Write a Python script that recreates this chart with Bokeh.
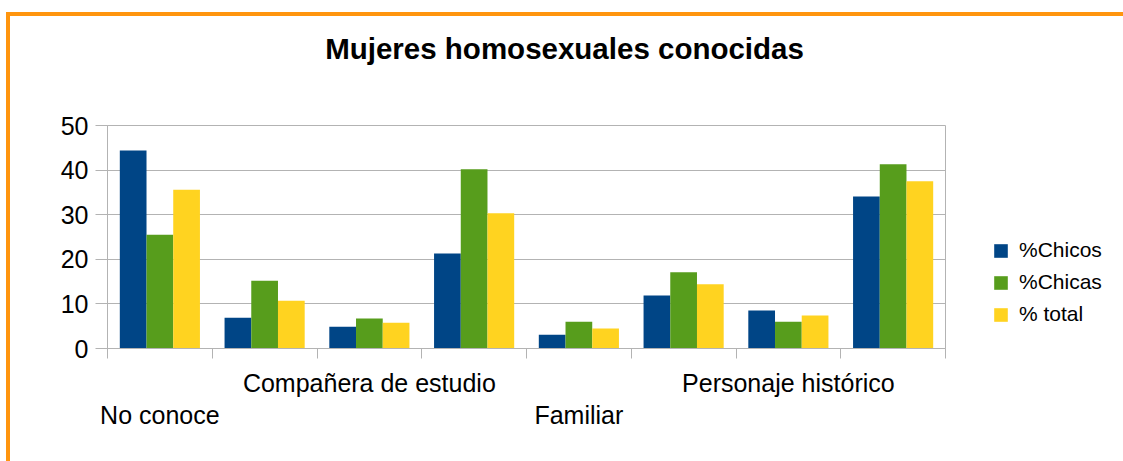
from bokeh.plotting import figure
from bokeh.layouts import row
from bokeh.models import (Range1d, FixedTicker, Legend, LegendItem, ColumnDataSource,
                          LinearAxis, InlineStyleSheet)
from bokeh.transform import dodge
from bokeh.embed import file_html
from bokeh.resources import INLINE

title_text = "Mujeres homosexuales conocidas"
categories = ["No conoce", "", "Compañera de estudio", "", "Familiar", "", "Personaje histórico", ""]
chicos = [44.4, 6.9, 4.9, 21.3, 3.1, 11.9, 8.5, 34.1]
chicas = [25.5, 15.2, 6.7, 40.2, 6.0, 17.1, 6.0, 41.3]
total = [35.6, 10.7, 5.8, 30.3, 4.5, 14.4, 7.4, 37.5]
series_names = ["%Chicos", "%Chicas", "% total"]
series_keys = ["chicos", "chicas", "total"]
colors = ["#004586", "#579d1c", "#ffd320"]
y_ticks = [0, 10, 20, 30, 40, 50]

FONT = "Liberation Sans"
W, H = 1123, 461
PW = 946
N = len(categories)

xs = [i + 0.5 for i in range(N)]
src = ColumnDataSource(dict(x=xs, chicos=chicos, chicas=chicas, total=total))

p = figure(width=PW, height=H, output_backend="svg", toolbar_location=None,
           x_range=Range1d(0, N), y_range=Range1d(0, 50), x_axis_type=None,
           min_border_left=107, min_border_right=1, min_border_top=125, min_border_bottom=113)
p.background_fill_color = "white"
p.border_fill_color = "white"
p.outline_line_color = "#b3b3b3"
p.outline_line_width = 1

for key, off, col in zip(series_keys, [-0.255, 0.0, 0.255], colors):
    p.vbar(x=dodge("x", off, range=p.x_range), top=key, width=0.255, bottom=0,
           source=src, fill_color=col, line_color=None)

# grid
p.xgrid.visible = False
p.ygrid.grid_line_color = "#b3b3b3"
p.ygrid.ticker = FixedTicker(ticks=y_ticks)

# y axis
p.yaxis.ticker = FixedTicker(ticks=y_ticks)
p.yaxis.axis_line_color = "#b3b3b3"
p.yaxis.major_tick_line_color = "#b3b3b3"
p.yaxis.major_tick_out = 12
p.yaxis.major_tick_in = 0
p.yaxis.minor_tick_line_color = None
p.yaxis.major_label_standoff = 7
p.yaxis.major_label_text_font = FONT
p.yaxis.major_label_text_font_size = "25px"
p.yaxis.major_label_text_color = "black"

# category labels, staggered on two levels as in the original
upper = [i for i, c in enumerate(categories) if c and (i // 2) % 2 == 1]
lower = [i for i, c in enumerate(categories) if c and (i // 2) % 2 == 0]

ax1 = LinearAxis(ticker=FixedTicker(ticks=[xs[i] for i in upper],
                                    minor_ticks=list(range(N + 1))),
                 major_label_overrides={xs[i]: categories[i] for i in upper})
ax1.axis_line_color = "#b3b3b3"
ax1.major_tick_line_color = None
ax1.major_tick_out = 0
ax1.major_tick_in = 0
ax1.minor_tick_line_color = "#b3b3b3"
ax1.minor_tick_out = 10
ax1.minor_tick_in = 0
ax1.major_label_standoff = 10
ax1.major_label_text_font = FONT
ax1.major_label_text_font_size = "25px"
ax1.major_label_text_color = "black"
p.add_layout(ax1, "below")

ax2 = LinearAxis(ticker=FixedTicker(ticks=[xs[i] for i in lower], minor_ticks=[]),
                 major_label_overrides={xs[i]: categories[i] for i in lower})
ax2.axis_line_color = None
ax2.major_tick_line_color = None
ax2.major_tick_out = 0
ax2.major_tick_in = 0
ax2.minor_tick_line_color = None
ax2.major_label_standoff = 1
ax2.major_label_text_font = FONT
ax2.major_label_text_font_size = "25px"
ax2.major_label_text_color = "black"
p.add_layout(ax2, "below")

# chart title, placed above the frame (centred over the whole chart box)
TITLE_X = 4.363
tax = LinearAxis(ticker=FixedTicker(ticks=[TITLE_X], minor_ticks=[]),
                 major_label_overrides={TITLE_X: title_text})
tax.axis_line_color = None
tax.major_tick_line_color = None
tax.minor_tick_line_color = None
tax.major_tick_out = 0
tax.major_tick_in = 0
tax.major_label_standoff = 61
tax.major_label_text_font = FONT
tax.major_label_text_font_size = "29.5px"
tax.major_label_text_font_style = "bold"
tax.major_label_text_color = "black"
p.add_layout(tax, "above")

# legend panel (beside the plot); its bars lie outside its own view range
lf = figure(width=W - PW, height=H, output_backend="svg", toolbar_location=None,
            x_range=Range1d(-20, -19), y_range=Range1d(0, 1), x_axis_type=None, y_axis_type=None,
            min_border_left=0, min_border_right=0, min_border_top=0, min_border_bottom=0)
lf.outline_line_color = None
lf.xgrid.visible = False
lf.ygrid.visible = False
lf.background_fill_color = "white"
lf.border_fill_color = "white"
items = []
for name, key, col in zip(series_names, series_keys, colors):
    r = lf.vbar(x="x", top=key, width=0.255, source=src, fill_color=col, line_color=None)
    items.append(LegendItem(label=name, renderers=[r]))
legend = Legend(items=items, location=(46, 22), padding=0, margin=0, spacing=8,
                glyph_width=17, glyph_height=17, label_standoff=10,
                label_text_font=FONT, label_text_font_size="21px", label_text_color="black",
                border_line_color=None, background_fill_alpha=0)
lf.add_layout(legend)

layout = row(p, lf, spacing=0)
# orange frame lines (top and left), as in the original page
layout.stylesheets = [InlineStyleSheet(css="""
:host { position: relative; }
:host::before { content: ""; position: absolute; left: 6px; top: 12px; right: 0px; height: 4px;
                background: #ff950e; z-index: 10; pointer-events: none; }
:host::after { content: ""; position: absolute; left: 6px; top: 12px; width: 4px; bottom: 0px;
               background: #ff950e; z-index: 10; pointer-events: none; }
""")]

open("out.html", "w").write(file_html(layout, INLINE))
